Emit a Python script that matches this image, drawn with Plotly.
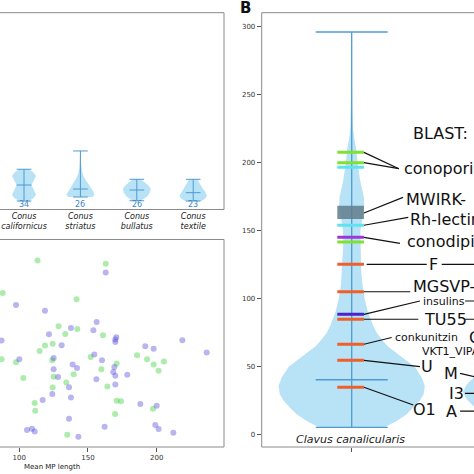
import plotly.graph_objects as go

FONT = "DejaVu Sans"

# ---------------- Panel A (top): per-species violins ----------------
species = ["Conus<br>californicus", "Conus<br>striatus", "Conus<br>bullatus", "Conus<br>textile"]
species_counts = [34, 26, 26, 23]
species_min = [8.6, 12.7, 8.9, 8.6]
species_max = [40.9, 59.5, 30.7, 30.7]
species_median = [24.9, 20.8, 19.8, 17.1]
# density profiles (length levels, half-widths)
cal_levels = [8.6, 12, 15, 19, 24.9, 30, 34, 38, 40.9]
cal_width = [0.089, 0.177, 0.213, 0.177, 0.133, 0.177, 0.213, 0.16, 0.071]
str_levels = [12.7, 15, 18, 22, 27, 32, 37, 45, 59.5]
str_width = [0.213, 0.248, 0.23, 0.186, 0.124, 0.071, 0.035, 0.014, 0.005]
bul_levels = [8.9, 13, 17, 21, 25, 28, 30.7]
bul_width = [0.071, 0.177, 0.23, 0.248, 0.195, 0.124, 0.071]
tex_levels = [8.6, 11, 14, 18, 22, 26, 30.7]
tex_width = [0.142, 0.213, 0.243, 0.213, 0.16, 0.124, 0.071]
profiles = [(cal_levels, cal_width), (str_levels, str_width),
            (bul_levels, bul_width), (tex_levels, tex_width)]

# ---------------- Panel A (bottom): scatter ----------------
green_x = [113.3, 162.9, 87.9, 141.7, 128.6, 142.2, 133.5, 160.9, 124.3, 118.7, 114.8, 87.1,
           97.6, 124.0, 151.9, 185.7, 193.0, 197.8, 205.3, 201.4, 159.7, 170.9, 102.9, 125.0,
           139.6, 134.2, 124.3, 164.1, 111.2, 111.6, 170.9, 174.0, 197.3, 169.7, 134.9]
green_y = [89.9, 88.3, 74.2, 71.2, 58.2, 56.9, 54.5, 53.8, 49.8, 48.9, 46.3, 42.3,
           40.9, 41.8, 43.4, 44.2, 42.3, 39.7, 41.2, 36.7, 37.5, 40.2, 33.2, 33.8,
           35.1, 31.1, 28.7, 29.2, 21.2, 17.5, 22.3, 22.1, 18.4, 15.9, 5.9]
blue_x = [162.9, 97.6, 118.7, 156.3, 137.6, 153.9, 121.6, 170.6, 169.9, 169.9, 130.8, 87.1,
          218.7, 191.7, 197.8, 236.4, 154.6, 125.0, 100.0, 160.2, 138.8, 142.0, 125.0, 169.2,
          168.4, 169.9, 178.6, 128.2, 156.1, 169.9, 136.2, 124.0, 117.0, 137.6, 188.1, 200.0,
          136.2, 105.6, 109.2, 111.2, 162.1, 199.0, 201.4, 212.1, 143.0]
blue_y = [84.1, 68.4, 65.7, 60.3, 57.4, 56.3, 54.3, 52.9, 51.8, 50.6, 49.0, 51.3,
          51.4, 48.6, 47.3, 45.5, 44.6, 42.9, 42.3, 41.8, 39.7, 38.1, 37.5, 38.6,
          36.2, 34.3, 34.8, 33.7, 32.7, 30.1, 28.8, 25.6, 22.6, 23.9, 20.7, 19.9,
          13.6, 8.2, 8.8, 7.5, 9.8, 10.6, 8.7, 6.9, 5.0]
scatter_ticks = [100, 150, 200]

# ---------------- Panel B ----------------
clavus_levels = [5.4, 10, 15, 20, 25, 30, 36, 42, 50, 55, 60, 65, 70, 75, 80, 90, 100, 110,
                 120, 140, 150, 160, 168, 175, 187, 200, 210, 217, 225, 240, 260, 296.1]
clavus_width = [0.183, 0.25, 0.306, 0.344, 0.378, 0.4, 0.406, 0.389, 0.35, 0.3, 0.25, 0.2,
                0.167, 0.139, 0.12, 0.09, 0.072, 0.06, 0.053, 0.047, 0.048, 0.061, 0.07,
                0.067, 0.047, 0.033, 0.025, 0.015, 0.008, 0.0035, 0.0017, 0.0011]
clavus_min, clavus_max, clavus_median = 5.4, 296.1, 40.4
next_levels = [8, 14, 20.4, 26, 31.4, 37, 42.4, 50, 60, 75, 100, 150]
next_width = [0.139, 0.233, 0.32, 0.361, 0.382, 0.361, 0.32, 0.25, 0.183, 0.122, 0.067, 0.028]
mwirk_range = [158.6, 168.4]
hit_lengths = [207.6, 200.0, 196.6, 154.0, 145.1, 141.7, 125.3, 105.1, 88.5, 84.9, 66.5, 54.7, 34.9]
hit_class = ["g", "g", "c", "c", "p", "g", "o", "o", "i", "o", "o", "o", "o"]
b_ticks = [0, 50, 100, 150, 200, 250, 300]

class_color = {"g": "#7fe232", "c": "#5fe3ee", "p": "#a136d6", "o": "#ee5f2c", "i": "#4a22cc"}
VFILL = "rgba(160,216,242,0.75)"
VLINE = "#4f9bd0"

fig = go.Figure()


def violin_poly(center, levels, widths):
    xs = [center + w for w in widths] + [center - w for w in reversed(widths)]
    ys = list(levels) + list(reversed(levels))
    return xs + xs[:1], ys + ys[:1]


# Panel A top
for i, (lv, wd) in enumerate(profiles):
    px, py = violin_poly(i, lv, wd)
    fig.add_trace(go.Scatter(x=px, y=py, fill="toself", fillcolor=VFILL, mode="lines",
                             line=dict(width=0), xaxis="x", yaxis="y", hoverinfo="skip"))
    cw = 0.13
    lx = [i, i, None, i - cw, i + cw, None, i - cw, i + cw, None, i - cw, i + cw]
    ly = [species_min[i], species_max[i], None, species_min[i], species_min[i], None,
          species_max[i], species_max[i], None, species_median[i], species_median[i]]
    fig.add_trace(go.Scatter(x=lx, y=ly, mode="lines", line=dict(color=VLINE, width=1),
                             xaxis="x", yaxis="y", hoverinfo="skip"))
    fig.add_annotation(x=i, y=4.6, xref="x", yref="y", text=str(species_counts[i]),
                       showarrow=False, font=dict(family=FONT, size=8, color="#3d85c6"))

# Panel A bottom scatter
fig.add_trace(go.Scatter(x=green_x, y=green_y, mode="markers", xaxis="x2", yaxis="y2",
                         marker=dict(size=6, color="rgba(60,210,60,0.42)", line=dict(width=0))))
fig.add_trace(go.Scatter(x=blue_x, y=blue_y, mode="markers", xaxis="x2", yaxis="y2",
                         marker=dict(size=6, color="rgba(80,70,215,0.4)", line=dict(width=0))))

# Panel B violins
px, py = violin_poly(1, next_levels, next_width)
fig.add_trace(go.Scatter(x=px, y=py, fill="toself", fillcolor=VFILL, mode="lines",
                         line=dict(width=0), xaxis="x3", yaxis="y3", hoverinfo="skip"))
px, py = violin_poly(0, clavus_levels, clavus_width)
fig.add_trace(go.Scatter(x=px, y=py, fill="toself", fillcolor=VFILL, mode="lines",
                         line=dict(width=0), xaxis="x3", yaxis="y3", hoverinfo="skip"))
cw = 0.2
fig.add_trace(go.Scatter(
    x=[0, 0, None, -cw, cw, None, -cw, cw, None, -cw, cw],
    y=[clavus_min, clavus_max, None, clavus_min, clavus_min, None, clavus_max, clavus_max,
       None, clavus_median, clavus_median],
    mode="lines", line=dict(color=VLINE, width=1.3), xaxis="x3", yaxis="y3", hoverinfo="skip"))
# MWIRK box
fig.add_trace(go.Scatter(x=[-0.08, 0.068, 0.068, -0.08, -0.08],
                         y=[mwirk_range[0], mwirk_range[0], mwirk_range[1], mwirk_range[1], mwirk_range[0]],
                         fill="toself", fillcolor="rgba(96,124,140,0.85)", mode="lines",
                         line=dict(width=0), xaxis="x3", yaxis="y3", hoverinfo="skip"))
# hit markers
for L, c in zip(hit_lengths, hit_class):
    fig.add_trace(go.Scatter(x=[-0.08, 0.068], y=[L, L], mode="lines",
                             line=dict(color=class_color[c], width=3), xaxis="x3", yaxis="y3",
                             hoverinfo="skip"))

# connectors
segs = [
    ((0.068, 207.6), (0.262, 195.6)), ((0.068, 200.0), (0.262, 195.6)),
    ((0.068, 163.0), (0.285, 174.5)), ((0.068, 154.0), (0.314, 159.8)),
    ((0.068, 145.1), (0.268, 140.7)),
    ((0.083, 125.3), (0.417, 125.3)), ((0.50, 125.3), (0.70, 125.3)),
    ((0.068, 105.1), (0.325, 105.1)),
    ((0.068, 88.5), (0.379, 98.3)), ((0.63, 98.3), (0.70, 98.3)),
    ((0.068, 84.9), (0.37, 84.9)), ((0.63, 84.9), (0.70, 84.9)),
    ((0.068, 66.5), (0.222, 71.5)),
    ((0.068, 54.7), (0.379, 50.0)),
    ((0.068, 34.9), (0.342, 21.8)),
    ((0.602, 45.1), (0.70, 42.0)),
    ((0.629, 30.4), (0.70, 30.4)),
    ((0.602, 17.4), (0.70, 17.4)),
]
sx, sy = [], []
for (a, b) in segs:
    sx += [a[0], b[0], None]
    sy += [a[1], b[1], None]
fig.add_trace(go.Scatter(x=sx, y=sy, mode="lines", line=dict(color="#111", width=1.2),
                         xaxis="x3", yaxis="y3", hoverinfo="skip", cliponaxis=False))

labels = [
    ("BLAST:", 0.4906, 221.8, "center", 16),
    ("conoporins", 0.2794, 196.1, "left", 16),
    ("MWIRK-", 0.2906, 173.3, "left", 16),
    ("Rh-lectins", 0.3128, 157.9, "left", 16),
    ("conodipins", 0.2961, 142.1, "left", 16),
    ("F", 0.4533, 125.3, "center", 16),
    ("MGSVP-_", 0.3267, 108.4, "left", 16),
    ("insulins", 0.385, 98.3, "left", 11),
    ("TU55", 0.3878, 84.9, "left", 16),
    ("conkunitzin", 0.2294, 71.6, "left", 11),
    ("C", 0.6406, 71.8, "left", 16),
    ("VKT1_VIPAA", 0.3794, 61.5, "left", 11),
    ("U", 0.4167, 50.0, "center", 16),
    ("M", 0.5517, 45.0, "center", 16),
    ("I3", 0.5833, 30.4, "center", 16),
    ("O1", 0.4017, 18.9, "center", 16),
    ("A", 0.5556, 17.4, "center", 16),
]
for t, x, y, anc, s in labels:
    fig.add_annotation(x=x, y=y, xref="x3", yref="y3", text=t, showarrow=False, xanchor=anc,
                       font=dict(family=FONT, size=s, color="#111"))
fig.add_annotation(x=-0.0094, y=-3.4, xref="x3", yref="y3", text="<i>Clavus canalicularis</i>",
                   showarrow=False, xanchor="center", font=dict(family=FONT, size=11, color="#222"))
fig.add_annotation(x=245 / 474, y=1 - 8 / 474, xref="paper", yref="paper", text="<b>B</b>",
                   showarrow=False, xanchor="center", yanchor="middle",
                   font=dict(family=FONT, size=15, color="#111"))
fig.add_annotation(x=52 / 474, y=1 - 466.7 / 474, xref="paper", yref="paper", text="Mean MP length",
                   showarrow=False, xanchor="center", yanchor="middle",
                   font=dict(family=FONT, size=7, color="#222"))

# frames
P1 = (0.0, 224 / 474, 1 - 209.5 / 474, 1 - 12.7 / 474)
P2 = (0.0, 224 / 474, 1 - 447 / 474, 1 - 239.5 / 474)
P3 = (261.7 / 474, 1.0, 1 - 447 / 474, 1 - 12.7 / 474)
FC = "#8a8a8a"
shapes = []
for (x0, x1, y0, y1) in (P1, P2):
    shapes += [dict(type="line", xref="paper", yref="paper", x0=x0, x1=x1, y0=y1, y1=y1),
               dict(type="line", xref="paper", yref="paper", x0=x1, x1=x1, y0=y0, y1=y1),
               dict(type="line", xref="paper", yref="paper", x0=x0, x1=x1, y0=y0, y1=y0)]
x0, x1, y0, y1 = P3
shapes += [dict(type="line", xref="paper", yref="paper", x0=x0, x1=x1, y0=y1, y1=y1),
           dict(type="line", xref="paper", yref="paper", x0=x0, x1=x0, y0=y0, y1=y1),
           dict(type="line", xref="paper", yref="paper", x0=x0, x1=x1, y0=y0, y1=y0)]
for s in shapes:
    s["line"] = dict(color=FC, width=1)

fig.update_layout(
    template="none",
    width=474, height=474, margin=dict(l=0, r=0, t=0, b=0, pad=0),
    paper_bgcolor="white", plot_bgcolor="rgba(0,0,0,0)", showlegend=False, shapes=shapes,
    hovermode=False,
    xaxis=dict(domain=[P1[0], P1[1]], anchor="y", range=[-0.426, 3.546], tickvals=[0, 1, 2, 3],
               ticktext=["<i>" + s + "</i>" for s in species], ticks="", showgrid=False,
               zeroline=False, showline=False, automargin=False, showspikes=False,
               tickfont=dict(family=FONT, size=8, color="#222")),
    yaxis=dict(domain=[P1[2], P1[3]], anchor="x", range=[0, 200], visible=False, automargin=False),
    xaxis2=dict(domain=[P2[0], P2[1]], anchor="y2", range=[85.95, 249.0], tickvals=scatter_ticks,
                ticks="outside", ticklen=4, tickcolor="#555", showgrid=False, zeroline=False,
                showline=False, automargin=False, showspikes=False,
                tickfont=dict(family=FONT, size=7, color="#333")),
    yaxis2=dict(domain=[P2[2], P2[3]], anchor="x2", range=[0, 100], visible=False, automargin=False),
    xaxis3=dict(domain=[P3[0], P3[1]], anchor="y3", range=[-0.5, 0.6794], tickvals=[0],
                ticktext=[""], ticks="outside", ticklen=4, tickcolor="#555", showgrid=False,
                zeroline=False, showline=False, automargin=False, showspikes=False),
    yaxis3=dict(domain=[P3[2], P3[3]], anchor="x3", range=[-9.04, 310.3], tickvals=b_ticks,
                ticks="outside", ticklen=4, tickcolor="#555", showgrid=False, zeroline=False,
                showline=False, automargin=False, showspikes=False,
                tickfont=dict(family=FONT, size=7, color="#333")),
)

fig.write_html("out.html", config={"staticPlot": True, "displayModeBar": False},
               post_script="document.body.style.margin='0';document.body.style.overflow='hidden';")
